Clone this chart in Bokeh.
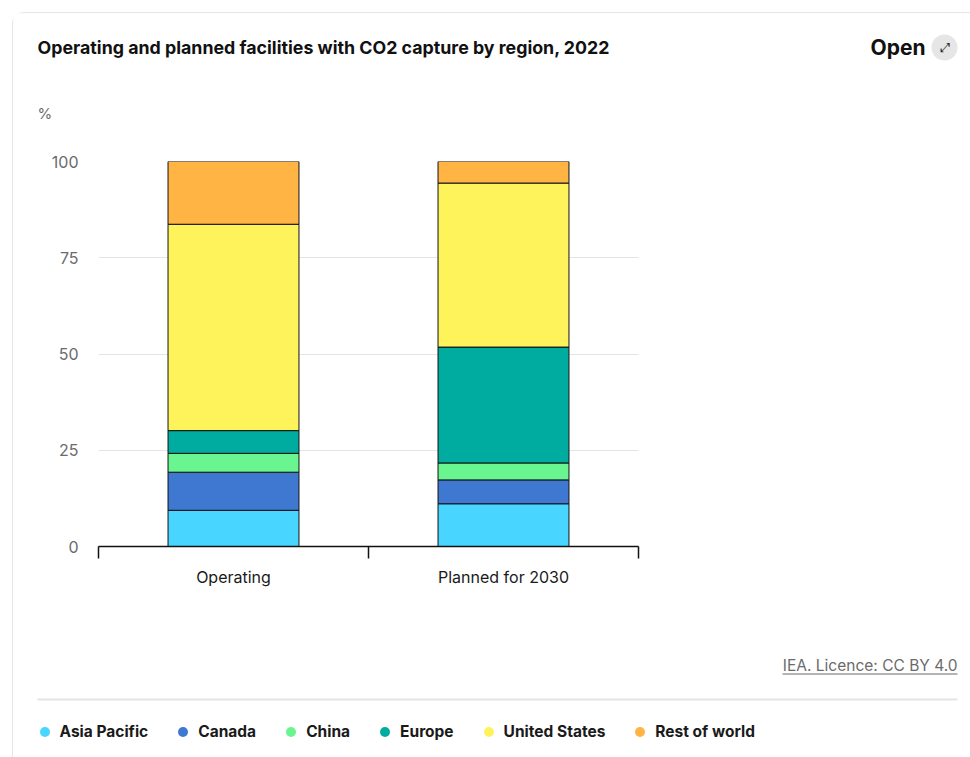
from bokeh.plotting import figure
from bokeh.layouts import column
from bokeh.models import (ColumnDataSource, Label, Legend, LegendItem,
                          Range1d, FactorRange, FixedTicker, LinearAxis, CategoricalAxis)
from bokeh.embed import file_html
from bokeh.resources import INLINE

categories = ["Operating", "Planned for 2030"]
regions = ["Asia Pacific", "Canada", "China", "Europe", "United States", "Rest of world"]
asia_pacific = [9.4, 11.1]
canada = [9.9, 6.2]
china = [4.9, 4.4]
europe = [5.9, 30.1]
united_states = [53.6, 42.6]
rest_of_world = [16.3, 5.6]
colors = ["#48d5ff", "#3e78d1", "#69f58f", "#00ac9f", "#fff35c", "#ffb444"]
y_ticks = [0, 25, 50, 75, 100]

title_text = "Operating and planned facilities with CO2 capture by region, 2022"
unit_text = "%"
source_text = "IEA. Licence: CC BY 4.0"

FONT = "Inter"
W = 957  # inner width of the card (page x 13..970)


def no_align(f):
    try:
        f.frame_align = False
    except Exception:
        pass
    return f


def plain_fig(y_top, y_bottom):
    f = figure(width=W, height=y_bottom - y_top, x_range=Range1d(13, 970), y_range=Range1d(y_bottom, y_top),
               output_backend="svg", toolbar_location=None, x_axis_location=None, y_axis_location=None,
               min_border=0)
    f.outline_line_color = None
    f.grid.visible = False
    return no_align(f)


# ---------- header ----------
header = plain_fig(13, 140)
header.add_layout(Label(x=37, y=47, text=title_text, text_font=FONT, text_font_style="bold",
                        text_font_size="17.8px", text_color="#111111", text_baseline="middle"))
header.add_layout(Label(x=925, y=47, text="Open", text_font=FONT, text_font_style="bold",
                        text_font_size="21px", text_color="#111111", text_baseline="middle",
                        text_align="right"))
header.scatter(x=[944], y=[47], marker="circle", size=26, fill_color="#e6e6e6", line_color=None)
header.add_layout(Label(x=944, y=47, text="⤢", text_font="DejaVu Sans", text_font_size="13px",
                        text_color="#222222", text_baseline="middle", text_align="center"))
header.add_layout(Label(x=37, y=113, text=unit_text, text_font=FONT, text_font_size="15px",
                        text_color="#6b6b6b", text_baseline="middle"))

# ---------- chart ----------
data = dict(category=categories)
for name, vals in zip(regions, [asia_pacific, canada, china, europe, united_states, rest_of_world]):
    data[name] = vals
source = ColumnDataSource(data)

p = figure(width=W, height=460, x_range=FactorRange(*categories), y_range=Range1d(0, 100),
           output_backend="svg", toolbar_location=None, x_axis_location=None,
           min_border_left=85, min_border_right=332, min_border_top=21, min_border_bottom=54)
p.outline_line_color = None
no_align(p)

p.vbar_stack(regions, x="category", width=0.485, source=source, color=colors,
             line_color="#111111", line_width=1)

ya = p.yaxis[0]
ya.ticker = FixedTicker(ticks=y_ticks)
ya.axis_line_color = None
ya.major_tick_line_color = None
ya.minor_tick_line_color = None
ya.major_tick_out = 0
ya.major_tick_in = 0
ya.major_label_standoff = 20
ya.major_label_text_font = FONT
ya.major_label_text_font_size = "16px"
ya.major_label_text_color = "#6b6b6b"

p.xgrid.grid_line_color = None
p.ygrid.ticker = FixedTicker(ticks=y_ticks)
p.ygrid.grid_line_color = "#e4e4e4"
p.ygrid.grid_line_width = 1

edge_ticks = list(range(len(categories) + 1))
tick_axis = LinearAxis(ticker=FixedTicker(ticks=edge_ticks),
                       major_label_overrides={t: "" for t in edge_ticks},
                       major_label_text_font_size="0px", major_label_standoff=0,
                       major_tick_out=12, major_tick_in=0, minor_tick_out=0, minor_tick_in=0,
                       axis_line_color="#111111", axis_line_width=1.5,
                       major_tick_line_color="#111111", major_tick_line_width=1.5,
                       minor_tick_line_color=None)
cat_axis = CategoricalAxis(axis_line_color=None, major_tick_line_color=None, minor_tick_line_color=None,
                           major_label_standoff=2, major_label_text_font=FONT,
                           major_label_text_font_size="16px", major_label_text_color="#1a1a1a")
p.add_layout(tick_axis, "below")
p.add_layout(cat_axis, "below")

# ---------- footer ----------
footer = plain_fig(600, 757)
footer.add_layout(Label(x=957, y=665, text=source_text, text_font=FONT, text_font_size="15.5px",
                        text_color="#6b6b6b", text_baseline="middle", text_align="right"))
footer.segment(x0=[782], y0=[673.5], x1=[957], y1=[673.5], line_color="#6b6b6b", line_width=1)
footer.segment(x0=[37], y0=[699], x1=[957], y1=[699], line_color="#e4e4e4", line_width=2)

items = []
for name, c in zip(regions, colors):
    # one point placed outside the visible range; it only serves as the legend's marker
    r = footer.scatter(x=[-500], y=[-500], marker="circle", size=10, fill_color=c, line_color=None)
    items.append(LegendItem(label=name, renderers=[r]))
legend = Legend(items=items, orientation="horizontal", location=(18.5, 13.5),
                glyph_width=25, glyph_height=25, label_standoff=3, spacing=22,
                padding=0, margin=0, border_line_color=None, background_fill_alpha=0,
                label_text_font=FONT, label_text_font_size="15.5px", label_text_color="#1a1a1a",
                label_text_font_style="bold")
footer.add_layout(legend, "center")

layout = column(header, p, footer,
                styles={"margin-left": "12px", "margin-top": "12px",
                        "border-left": "1px solid #e6e6e6", "border-top": "1px solid #e6e6e6",
                        "border-top-left-radius": "12px"})

open("out.html", "w").write(file_html(layout, INLINE))
